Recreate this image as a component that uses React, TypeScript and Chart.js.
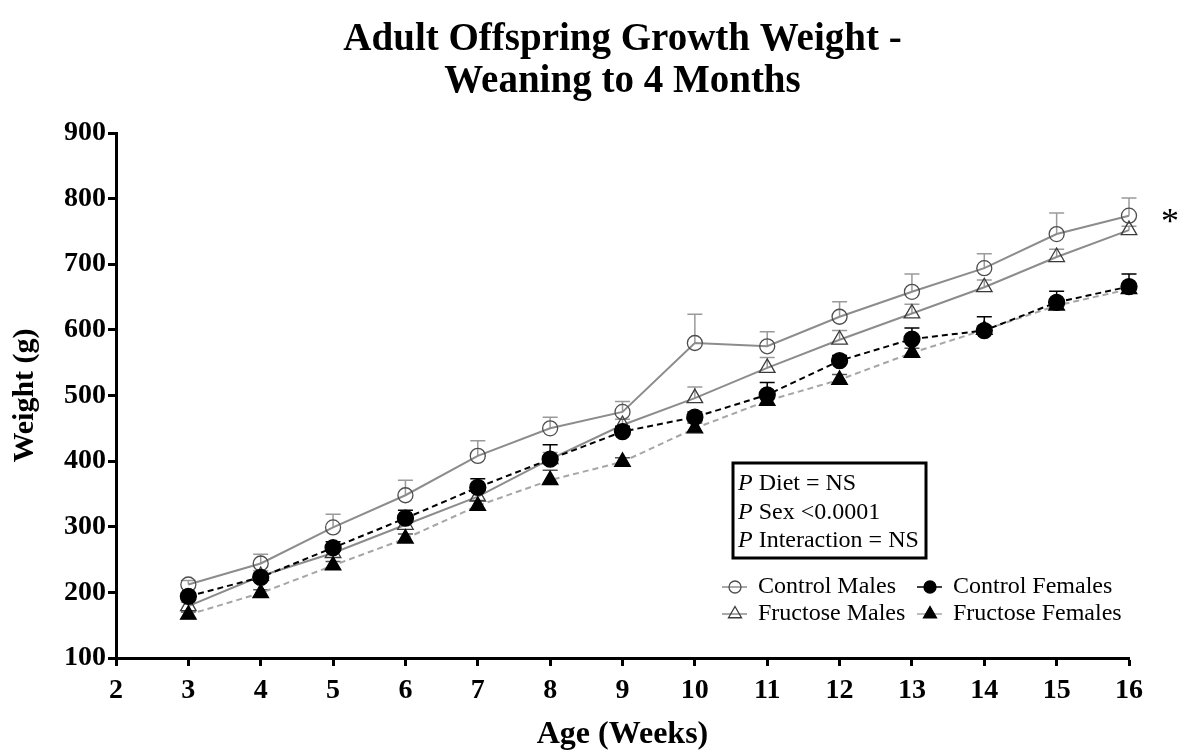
import React, { useEffect, useRef } from "react";
import { Chart, registerables } from "chart.js";

Chart.register(...registerables);

const titleLines = ["Adult Offspring Growth Weight -", "Weaning to 4 Months"];
const xAxisTitle = "Age (Weeks)";
const yAxisTitle = "Weight (g)";
const statLines = [
  ["P", " Diet = NS"],
  ["P", " Sex <0.0001"],
  ["P", " Interaction = NS"],
];

const weeks = [3, 4, 5, 6, 7, 8, 9, 10, 11, 12, 13, 14, 15, 16];

const controlMales = [212, 244, 299, 348, 408, 450, 475, 580, 575, 620, 658, 694, 746, 774];
const controlMalesErr = [6, 14, 20, 23, 23, 17, 16, 44, 22, 23, 27, 22, 32, 27];

const fructoseMales = [179, 225, 260, 303, 346, 403, 455, 496, 542, 585, 625, 665, 711, 752];
const fructoseMalesErr = [6, 8, 10, 9, 10, 10, 9, 17, 16, 14, 14, 11, 12, 6];

const controlFemales = [194, 223, 268, 313, 360, 403, 445, 467, 501, 553, 586, 599, 642, 666];
const controlFemalesErr = [5, 6, 9, 12, 13, 22, 8, 8, 19, 8, 17, 21, 17, 19];

const fructoseFemales = [166, 199, 241, 282, 332, 371, 399, 450, 492, 524, 565, 600, 637, 662];
const fructoseFemalesErr = [4, 5, 6, 7, 8, 15, 6, 8, 7, 8, 7, 6, 7, 5];

const SERIF = "'Liberation Serif', 'DejaVu Serif', serif";

type Series = {
  label: string;
  values: number[];
  errs: number[];
  lineColor: string;
  pointBorder: string;
  pointFill: string;
  style: "circle" | "triangle";
  dash: number[];
  errColor: string;
  radius: number;
};

const series: Series[] = [
  {
    label: "Control Females",
    values: controlFemales,
    errs: controlFemalesErr,
    lineColor: "#000000",
    pointBorder: "#000000",
    pointFill: "#000000",
    style: "circle",
    dash: [6, 4],
    errColor: "#000000",
    radius: 8,
  },
  {
    label: "Fructose Females",
    values: fructoseFemales,
    errs: fructoseFemalesErr,
    lineColor: "#a6a6a6",
    pointBorder: "#000000",
    pointFill: "#000000",
    style: "triangle",
    dash: [6, 4],
    errColor: "#555555",
    radius: 9,
  },
  {
    label: "Control Males",
    values: controlMales,
    errs: controlMalesErr,
    lineColor: "#8c8c8c",
    pointBorder: "#4d4d4d",
    pointFill: "rgba(255,255,255,0)",
    style: "circle",
    dash: [],
    errColor: "#9a9a9a",
    radius: 7.5,
  },
  {
    label: "Fructose Males",
    values: fructoseMales,
    errs: fructoseMalesErr,
    lineColor: "#8c8c8c",
    pointBorder: "#3a3a3a",
    pointFill: "rgba(255,255,255,0)",
    style: "triangle",
    dash: [],
    errColor: "#9a9a9a",
    radius: 9,
  },
];

const legendOrder = [
  ["Control Males", "Control Females"],
  ["Fructose Males", "Fructose Females"],
];

function drawMarker(ctx: CanvasRenderingContext2D, s: Series, x: number, y: number, r: number) {
  ctx.save();
  ctx.setLineDash([]);
  ctx.lineWidth = 1.3;
  ctx.strokeStyle = s.pointBorder;
  ctx.fillStyle = s.pointFill;
  ctx.beginPath();
  if (s.style === "circle") {
    ctx.arc(x, y, r, 0, Math.PI * 2);
  } else {
    let a = 0;
    ctx.moveTo(x + Math.sin(a) * r, y - Math.cos(a) * r);
    a += (2 * Math.PI) / 3;
    ctx.lineTo(x + Math.sin(a) * r, y - Math.cos(a) * r);
    a += (2 * Math.PI) / 3;
    ctx.lineTo(x + Math.sin(a) * r, y - Math.cos(a) * r);
    ctx.closePath();
  }
  ctx.fill();
  ctx.stroke();
  ctx.restore();
}

const overlayPlugin = {
  id: "overlay",
  beforeDatasetsDraw(chart: any) {
    const ctx: CanvasRenderingContext2D = chart.ctx;
    const xs = chart.scales.x;
    const ys = chart.scales.y;
    ctx.save();
    for (const s of series) {
      ctx.strokeStyle = s.errColor;
      ctx.lineWidth = 1.5;
      ctx.setLineDash([]);
      s.values.forEach((v, i) => {
        const px = xs.getPixelForValue(weeks[i]);
        const py = ys.getPixelForValue(v);
        const pt = ys.getPixelForValue(v + s.errs[i]);
        ctx.beginPath();
        ctx.moveTo(px, py);
        ctx.lineTo(px, pt);
        ctx.moveTo(px - 7.5, pt);
        ctx.lineTo(px + 7.5, pt);
        ctx.stroke();
      });
    }
    ctx.restore();
  },
  afterDatasetsDraw(chart: any) {
    const ctx: CanvasRenderingContext2D = chart.ctx;
    const area = chart.chartArea;
    const xs = chart.scales.x;
    const ys = chart.scales.y;
    ctx.save();

    // statistics box
    const bx = area.left + 617;
    const by = area.top + 330;
    const bw = 193;
    const bh = 95;
    ctx.lineWidth = 3;
    ctx.strokeStyle = "#000";
    ctx.strokeRect(bx, by, bw, bh);
    ctx.fillStyle = "#000";
    ctx.textBaseline = "middle";
    ctx.textAlign = "left";
    statLines.forEach((ln, i) => {
      const ty = by + 21 + i * 28.5;
      ctx.font = `italic 24px ${SERIF}`;
      ctx.fillText(ln[0], bx + 5, ty);
      const w = ctx.measureText(ln[0]).width;
      ctx.font = `24px ${SERIF}`;
      ctx.fillText(ln[1], bx + 5 + w, ty);
    });

    // legend
    const colX = [area.left + 619, area.left + 814];
    const rowY = [area.top + 454, area.top + 481];
    legendOrder.forEach((row, ri) => {
      row.forEach((name, ci) => {
        const s = series.find((q) => q.label === name)!;
        const cx = colX[ci];
        const cy = rowY[ri];
        ctx.save();
        ctx.strokeStyle = s.lineColor;
        ctx.lineWidth = 1.5;
        ctx.setLineDash([]);
        ctx.beginPath();
        ctx.moveTo(cx - 13, cy);
        ctx.lineTo(cx + 12, cy);
        ctx.stroke();
        ctx.restore();
        drawMarker(ctx, s, cx, cy, s.style === "circle" ? 6 : 7.5);
        ctx.fillStyle = "#000";
        ctx.font = `24px ${SERIF}`;
        ctx.textBaseline = "middle";
        ctx.fillText(name, cx + 23, cy);
      });
    });

    // significance asterisk
    ctx.font = `36px ${SERIF}`;
    ctx.textAlign = "center";
    ctx.fillText("*", xs.getPixelForValue(16) + 41, ys.getPixelForValue(controlMales[controlMales.length - 1]) + 8);
    ctx.restore();
  },
};

export default function App() {
  const canvasRef = useRef<HTMLCanvasElement | null>(null);

  useEffect(() => {
    const canvas = canvasRef.current;
    if (!canvas) return;
    const chart = new Chart(canvas, {
      type: "line",
      data: {
        datasets: series.map((s) => ({
          label: s.label,
          data: s.values.map((v, i) => ({ x: weeks[i], y: v })),
          borderColor: s.lineColor,
          borderWidth: 2,
          borderDash: s.dash,
          pointStyle: s.style,
          pointRadius: s.radius,
          pointBackgroundColor: s.pointFill,
          pointBorderColor: s.pointBorder,
          pointBorderWidth: 1.3,
          fill: false,
          tension: 0,
          clip: false,
        })),
      },
      options: {
        animation: false,
        responsive: true,
        maintainAspectRatio: false,
        layout: { padding: { left: 0, right: 49, top: 0, bottom: 0 } },
        plugins: {
          legend: { display: false },
          tooltip: { enabled: false },
          title: {
            display: true,
            fullSize: false,
            text: titleLines,
            color: "#000",
            font: { family: SERIF, size: 39, weight: "bold", lineHeight: 42 / 39 },
            padding: { top: 19, bottom: 30 },
          },
        },
        scales: {
          x: {
            type: "linear",
            min: 2,
            max: 16,
            afterFit: (scale: any) => {
              scale.height = 93;
            },
            ticks: {
              stepSize: 1,
              color: "#000",
              padding: 8,
              font: { family: SERIF, size: 28, weight: "bold" },
            },
            grid: {
              drawOnChartArea: false,
              drawTicks: true,
              tickLength: 8,
              tickWidth: 3,
              tickColor: "#000",
            },
            border: { display: true, color: "#000", width: 3 },
            title: {
              display: true,
              text: xAxisTitle,
              color: "#000",
              font: { family: SERIF, size: 32, weight: "bold", lineHeight: 1.0 },
              padding: { top: 0, bottom: 0 },
            },
          },
          y: {
            type: "linear",
            min: 100,
            max: 900,
            afterFit: (scale: any) => {
              scale.width = 116;
            },
            ticks: {
              stepSize: 100,
              color: "#000",
              padding: 2,
              font: { family: SERIF, size: 28, weight: "bold" },
            },
            grid: {
              drawOnChartArea: false,
              drawTicks: true,
              tickLength: 8,
              tickWidth: 3,
              tickColor: "#000",
            },
            border: { display: true, color: "#000", width: 3 },
            title: {
              display: true,
              text: yAxisTitle,
              color: "#000",
              font: { family: SERIF, size: 30, weight: "bold", lineHeight: 1.2 },
              padding: { top: 7, bottom: 0 },
            },
          },
        },
      },
      plugins: [overlayPlugin],
    });
    return () => chart.destroy();
  }, []);

  return (
    <div style={{ position: "fixed", left: 0, top: 0, width: 1178, height: 751, background: "#fff" }}>
      <canvas ref={canvasRef} />
    </div>
  );
}
